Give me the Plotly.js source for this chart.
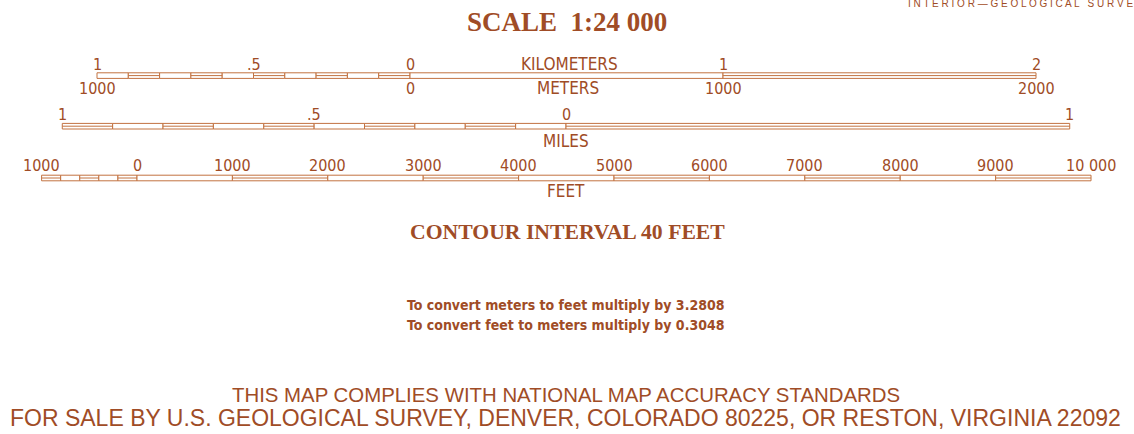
<!DOCTYPE html>
<html>
<head>
<meta charset="utf-8">
<script src="https://cdn.plot.ly/plotly-3.0.1.min.js"></script>
<style>html,body{margin:0;padding:0;background:#fff;}#chart{width:1134px;height:434px;}</style>
</head>
<body>
<div id="chart"></div>
<script>
// ---------- data ----------
const kmBreaks = [-1, -0.9, -0.8, -0.7, -0.6, -0.5, -0.4, -0.3, -0.2, -0.1, 0, 1, 2];
const kmStriped = [0, 1, 0, 1, 0, 1, 0, 1, 0, 1, 0, 1];
const kmTickValues = [-1, -0.5, 0, 1, 2];
const kmTickLabels = ['1', '.5', '0', '1', '2'];
const meterTickValues = [-1000, 0, 1000, 2000];
const meterTickLabels = ['1000', '0', '1000', '2000'];

const mileBreaks = [-1, -0.9, -0.8, -0.7, -0.6, -0.5, -0.4, -0.3, -0.2, -0.1, 0, 1];
const mileStriped = [1, 0, 1, 0, 1, 0, 1, 0, 1, 0, 1];
const mileTickValues = [-1, -0.5, 0, 1];
const mileTickLabels = ['1', '.5', '0', '1'];

const feetBreaks = [-1000, -800, -600, -400, -200, 0, 1000, 2000, 3000, 4000, 5000, 6000, 7000, 8000, 9000, 10000];
const feetStriped = [1, 0, 1, 0, 1, 0, 1, 0, 1, 0, 1, 0, 1, 0, 1];
const feetTickValues = [-1000, 0, 1000, 2000, 3000, 4000, 5000, 6000, 7000, 8000, 9000, 10000];
const feetTickLabels = ['1000', '0', '1000', '2000', '3000', '4000', '5000', '6000', '7000', '8000', '9000', '10 000'];

const scaleTitle = 'SCALE  1:24 000';
const contourText = 'CONTOUR INTERVAL 40 FEET';
const convertLines = ['To convert meters to feet multiply by 3.2808', 'To convert feet to meters multiply by 0.3048'];
const footerLines = ['THIS MAP COMPLIES WITH NATIONAL MAP ACCURACY STANDARDS',
  'FOR SALE BY U.S. GEOLOGICAL SURVEY, DENVER, COLORADO 80225, OR RESTON, VIRGINIA 22092'];
const headerText = 'INTERIOR—GEOLOGICAL SURVEY';

// ---------- geometry / style ----------
const W = 1134, H = 434;
const PX_PER_KM = 313;
const PX_PER_MILE = PX_PER_KM * 1.609344;
const PX_PER_FOOT = PX_PER_KM * 0.0003048;
const ZERO_KM = 410, ZERO_MI = 566, ZERO_FT = 137;
const ROW_KM = 75.6, ROW_MI = 126.2, ROW_FT = 178;
const BAR_H = 5.6;
const LINE = '#c27241';
const TEXT = '#a04c26';
const SANS_N = '"Liberation Sans Narrow", "DejaVu Sans Condensed", "Roboto", sans-serif';
const SANS = '"Liberation Sans", Arial, sans-serif';
const SERIF = '"Liberation Serif", "Times New Roman", serif';
const LBL = 16;

function rangeFor(zero, ppu) { return [-zero / ppu, (W - zero) / ppu]; }

function barTraces(breaks, striped, axis, row) {
  const starts = breaks.slice(0, -1);
  const widths = starts.map((s, i) => breaks[i + 1] - s);
  const box = {
    type: 'bar', orientation: 'h', xaxis: axis, yaxis: 'y',
    base: starts, x: widths, y: starts.map(() => row), width: BAR_H,
    marker: {color: '#ffffff', line: {color: LINE, width: 1}},
    hoverinfo: 'skip', showlegend: false
  };
  const lx = [], ly = [];
  starts.forEach((s, i) => {
    if (striped[i]) { lx.push(s, breaks[i + 1], null); ly.push(row, row, null); }
  });
  const mid = {
    type: 'scatter', mode: 'lines', xaxis: axis, yaxis: 'y',
    x: lx, y: ly, line: {color: LINE, width: 1}, hoverinfo: 'skip', showlegend: false
  };
  return [box, mid];
}

const traces = [
  ...barTraces(kmBreaks, kmStriped, 'x', ROW_KM),
  ...barTraces(mileBreaks, mileStriped, 'x2', ROW_MI),
  ...barTraces(feetBreaks, feetStriped, 'x3', ROW_FT)
];

const ann = [];
function label(text, x, xref, y, size, family, extra) {
  ann.push(Object.assign({
    text: text, x: x, xref: xref, y: y, yref: 'y', showarrow: false,
    xanchor: 'center', yanchor: 'middle', borderpad: 0,
    font: {family: family || SANS_N, size: size || LBL, color: TEXT}
  }, extra || {}));
}
kmTickValues.forEach((v, i) => label(kmTickLabels[i], v, 'x', 64));
meterTickValues.forEach((v, i) => label(meterTickLabels[i], v / 1000, 'x', 88));
mileTickValues.forEach((v, i) => label(mileTickLabels[i], v, 'x2', 114));
feetTickValues.forEach((v, i) => label(feetTickLabels[i], v, 'x3', 165));
label('KILOMETERS', 569 / W, 'paper', 64, 17);
label('METERS', 568 / W, 'paper', 88, 17);
label('MILES', 566 / W, 'paper', 141, 17);
label('FEET', 566 / W, 'paper', 191, 17);

label('<b>' + scaleTitle + '</b>', 567 / W, 'paper', 22, 27, SERIF);
label('<b>' + contourText + '</b>', 567 / W, 'paper', 232, 21.7, SERIF);
label('<b>' + convertLines[0] + '</b>', 565 / W, 'paper', 305, 14, SANS_N);
label('<b>' + convertLines[1] + '</b>', 565 / W, 'paper', 325, 14, SANS_N);
label(footerLines[0], 566 / W, 'paper', 395, 20.4, SANS);
label(footerLines[1], 565 / W, 'paper', 418, 23, SANS);
label(headerText.split('').join(' '), 907 / W, 'paper', 3.5, 10, SANS, {xanchor: 'left'});

const layout = {
  width: W, height: H,
  margin: {l: 0, r: 0, t: 0, b: 0, pad: 0},
  paper_bgcolor: '#ffffff', plot_bgcolor: '#ffffff',
  barmode: 'overlay',
  xaxis: {range: rangeFor(ZERO_KM, PX_PER_KM), visible: false, fixedrange: true},
  xaxis2: {range: rangeFor(ZERO_MI, PX_PER_MILE), visible: false, overlaying: 'x', anchor: 'y', fixedrange: true},
  xaxis3: {range: rangeFor(ZERO_FT, PX_PER_FOOT), visible: false, overlaying: 'x', anchor: 'y', fixedrange: true},
  yaxis: {range: [H, 0], visible: false, fixedrange: true},
  annotations: ann,
  showlegend: false
};

Plotly.newPlot('chart', traces, layout, {staticPlot: true, displayModeBar: false});
</script>
</body>
</html>
